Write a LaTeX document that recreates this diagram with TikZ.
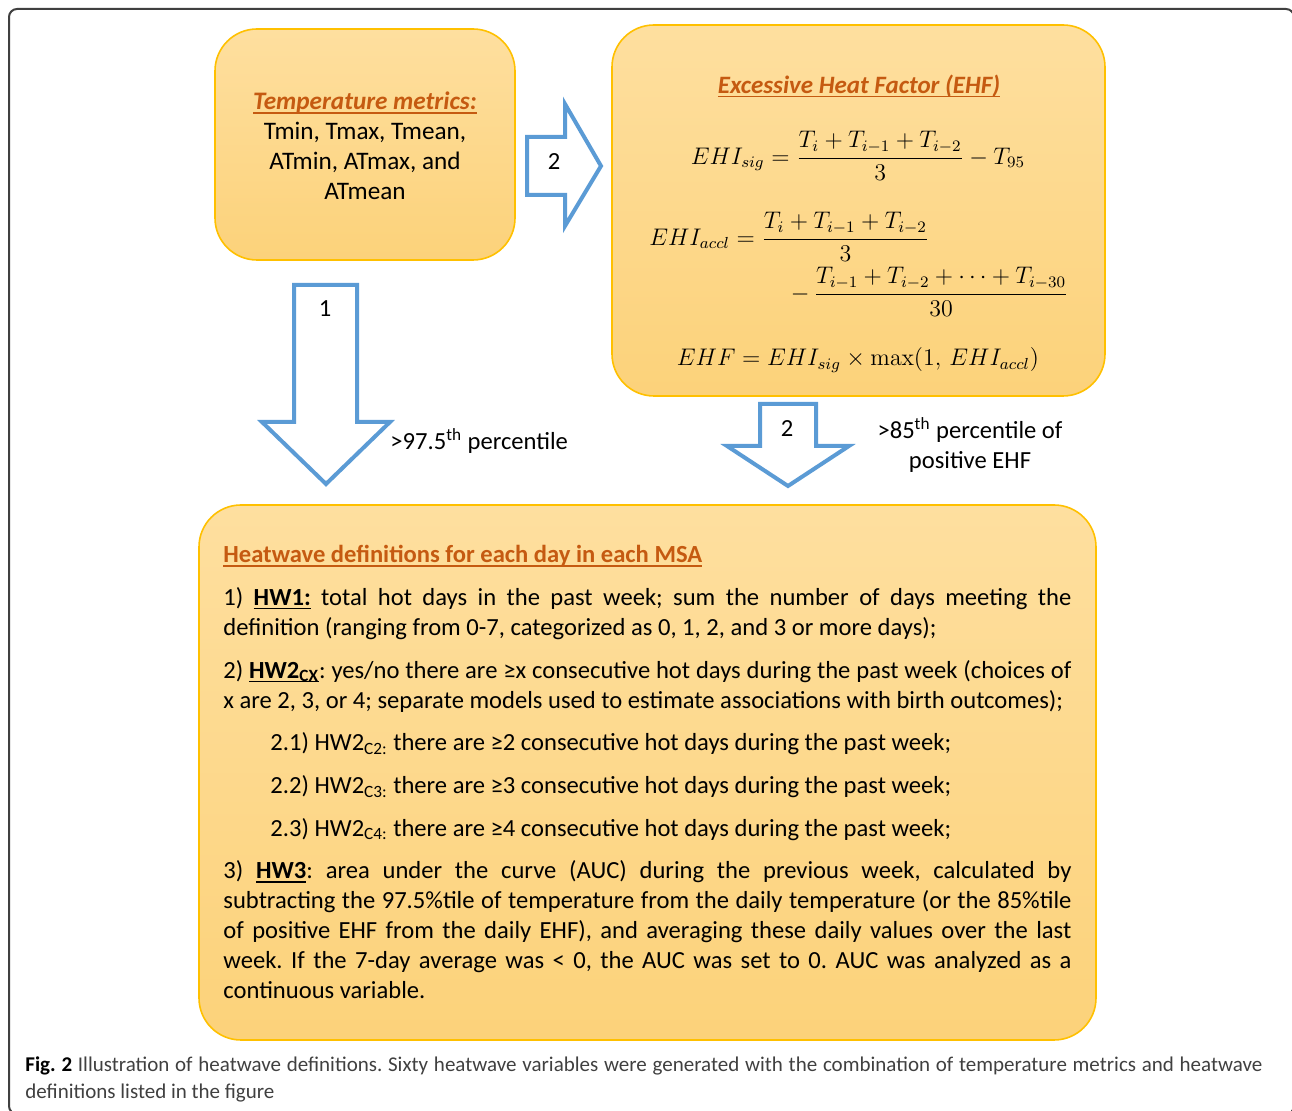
\documentclass[tikz,border=0pt]{standalone}
\usepackage{amsmath}
\usepackage[no-math]{fontspec}
\setmainfont{Carlito}
\newsavebox\ulbox
\newcommand\uln[1]{\sbox\ulbox{#1}\rlap{\rule[-2pt]{\wd\ulbox}{0.7pt}}\usebox\ulbox}
\definecolor{boxtop}{HTML}{FEDF9F}
\definecolor{boxbot}{HTML}{FCD27A}
\definecolor{boxline}{HTML}{FFC000}
\definecolor{headc}{HTML}{C55A11}
\definecolor{arrowc}{HTML}{5B9BD5}

\begin{document}
\begin{tikzpicture}[
  box/.style={draw=boxline,line width=0.8pt,top color=boxtop,bottom color=boxbot,rounded corners=21pt,inner sep=0pt},
  blockarr/.style={draw=arrowc,fill=white,line width=2pt,line join=miter},
  num/.style={font=\fontsize{12.3}{15}\selectfont,inner sep=0pt},
  txt/.style={font=\fontsize{12.3}{15}\selectfont,inner sep=0pt,align=center},
  eq/.style={font=\fontsize{12}{15}\selectfont,inner sep=0pt},
  head/.style={text=headc,font=\fontsize{12.5}{15}\selectfont\bfseries\itshape,inner sep=0pt},
  x=0.5pt,y=-0.5pt
]
  \useasboundingbox (0,0) rectangle (1292,1111);
  \begin{scope}
    \clip (0,0) rectangle (1292,1111);
    \draw[black!75,line width=1pt,rounded corners=4pt] (9,9) rectangle (1294,1114);
  \end{scope}

  \node[box,minimum width=150pt,minimum height=115.5pt] (temp) at (365,144.5) {};
  \node[box,minimum width=246.5pt,minimum height=185.5pt] (ehf) at (858.5,210.5) {};
  \node[box,minimum width=448.5pt,minimum height=267.5pt] (hw) at (647.5,772.5) {};

  \node[txt,font=\fontsize{12.6}{15}\selectfont] (temptxt) at (365,146)
    {{\color{headc}\bfseries\itshape\uln{Temperature metrics:}}\\
     Tmin, Tmax, Tmean,\\ ATmin, ATmax, and\\ ATmean};

  \node[head] (ehftitle) at (859,86) {\uln{Excessive Heat Factor (EHF)}};
  \node[eq] (eqsig) at (858,156)
    {$\displaystyle EHI_{sig}=\frac{T_i+T_{i-1}+T_{i-2}}{3}-T_{95}$};
  \node[eq,anchor=west] (eqacc) at (649,237)
    {$\displaystyle EHI_{accl}=\frac{T_i+T_{i-1}+T_{i-2}}{3}$};
  \node[eq,anchor=east] (eqacc2) at (1069,292)
    {$\displaystyle -\,\frac{T_{i-1}+T_{i-2}+\cdots+T_{i-30}}{30}$};
  \node[eq] (eqehf) at (858,360)
    {$EHF=EHI_{sig}\times\max(1,\,EHI_{accl})$};

  \draw[blockarr] (527,137) -- (565,137) -- (565,104) -- (601,166) -- (565,226)
    -- (565,195) -- (527,195) -- cycle;
  \draw[blockarr] (294,285) -- (357,285) -- (357,422) -- (390,422) -- (326,484)
    -- (262,422) -- (294,422) -- cycle;
  \draw[blockarr] (760,404) -- (816,404) -- (816,446) -- (849,446) -- (788,486)
    -- (727,446) -- (760,446) -- cycle;
  \foreach \x/\y/\n [count=\i] in {554/162/2,325/309/1,787/429/2}
    \node[num] (n\i) at (\x,\y) {\n};

  \node[txt,anchor=west] (p975) at (390,441) {>97.5\textsuperscript{th} percentile};
  \node[txt] (p85) at (970,445) {>85\textsuperscript{th} percentile of\\ positive EHF};

  \node[inner sep=0pt,anchor=north west,text width=424pt,align=justify,
        font=\fontsize{12.3}{15}\selectfont\frenchspacing] (hwtxt) at (223,545)
    {\setlength{\parskip}{6.35pt}%
     {\color{headc}\bfseries\uln{Heatwave definitions for each day in each MSA}}\par
     1) \uln{\textbf{HW1:}} total hot days in the past week; sum the number of days meeting the\linebreak
     definition (ranging from 0-7, categorized as 0, 1, 2, and 3 or more days);\par
     2) \uln{\textbf{HW2\textsubscript{CX}}}: yes/no there are ≥x consecutive hot days during the past week (choices of\linebreak
     x are 2, 3, or 4; separate models used to estimate associations with birth outcomes);\par
     \hspace*{23.5pt}2.1) HW2\textsubscript{C2:} there are ≥2 consecutive hot days during the past week;\par
     \hspace*{23.5pt}2.2) HW2\textsubscript{C3:} there are ≥3 consecutive hot days during the past week;\par
     \hspace*{23.5pt}2.3) HW2\textsubscript{C4:} there are ≥4 consecutive hot days during the past week;\par
     3) \uln{\textbf{HW3}}: area under the curve (AUC) during the previous week, calculated by\linebreak
     subtracting the 97.5\%tile of temperature from the daily temperature (or the 85\%tile\linebreak
     of positive EHF from the daily EHF), and averaging these daily values over the last\linebreak
     week. If the 7-day average was < 0, the AUC was set to 0. AUC was analyzed as a\linebreak
     continuous variable.};

  \node[inner sep=0pt,anchor=north west,text width=618.5pt,align=justify,
        font=\fontsize{10.5}{13.5}\selectfont\frenchspacing,text=black!75] (cap) at (25,1056)
    {{\color{black}\bfseries Fig. 2} Illustration of heatwave definitions. Sixty heatwave variables were generated with the combination of temperature metrics and heatwave\linebreak
     definitions listed in the figure};
\end{tikzpicture}
\end{document}
